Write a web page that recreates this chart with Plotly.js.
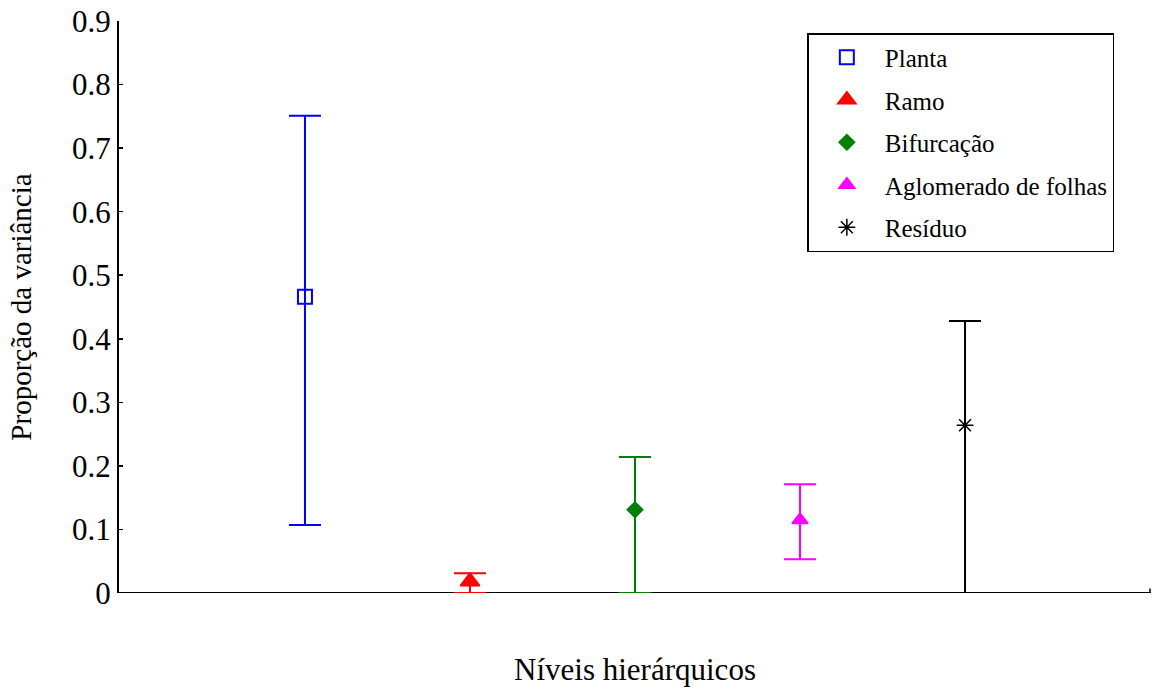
<!DOCTYPE html>
<html>
<head>
<meta charset="utf-8">
<script src="https://cdn.plot.ly/plotly-3.0.1.min.js"></script>
<style>html,body{margin:0;padding:0;background:#fff;}#chart{width:1153px;height:693px;}</style>
</head>
<body>
<div id="chart"></div>
<script>
// Data
const categories = ["Planta", "Ramo", "Bifurcação", "Aglomerado de folhas", "Resíduo"];
const positions = [1, 2, 3, 4, 5];
const estimates = [0.466, 0.018, 0.131, 0.115, 0.264];
const upperLimits = [0.751, 0.031, 0.214, 0.171, 0.428];
const lowerLimits = [0.107, 0.0, 0.0, 0.053, 0.0];
const yTicks = [0, 0.1, 0.2, 0.3, 0.4, 0.5, 0.6, 0.7, 0.8, 0.9];

const colors = ["#0000FF", "#FF0000", "#008000", "#FF00FF", "#000000"];
const symbols = ["square-open", "triangle-up", "diamond", "triangle-up", "asterisk-open"];
const sizes = [14, 17, 12, 14, 14];
const FONT = "'Liberation Serif', 'Times New Roman', serif";

const traces = categories.map((name, i) => ({
  type: "scatter",
  mode: "markers",
  name: name,
  legendgroup: "g" + i,
  x: [positions[i]],
  y: [estimates[i]],
  marker: {
    symbol: symbols[i],
    size: sizes[i],
    color: colors[i],
    line: {color: colors[i], width: (i === 0 ? 2 : 1.5)}
  },
  error_y: {
    type: "data",
    symmetric: false,
    array: [upperLimits[i] - estimates[i]],
    arrayminus: [estimates[i] - lowerLimits[i]],
    color: colors[i],
    thickness: 2,
    width: 16
  },
  cliponaxis: false
}));

const layout = {
  width: 1153,
  height: 693,
  margin: {l: 119, r: 2, t: 21, b: 100},
  paper_bgcolor: "#ffffff",
  plot_bgcolor: "#ffffff",
  font: {family: FONT, color: "#000000"},
  showlegend: true,
  legend: {
    x: 0.667, y: 0.979, xanchor: "left", yanchor: "top",
    bordercolor: "#000000", borderwidth: 1.5,
    bgcolor: "#ffffff",
    font: {family: FONT, size: 25, color: "#000000"},
    traceorder: "grouped",
    tracegroupgap: 7,
    itemwidth: 66
  },
  xaxis: {
    range: [-0.127, 6.127],
    showticklabels: false,
    ticks: "",
    showgrid: false,
    zeroline: false,
    showline: false,
    title: {text: "Níveis hierárquicos", font: {family: FONT, size: 31}, standoff: 65}
  },
  yaxis: {
    range: [0, 0.9],
    tickvals: yTicks,
    ticktext: yTicks.map(v => String(v)),
    ticks: "inside",
    ticklen: 4,
    tickwidth: 1.5,
    tickcolor: "#000000",
    showline: true,
    linecolor: "#000000",
    linewidth: 2,
    showgrid: false,
    zeroline: false,
    tickfont: {family: FONT, size: 31},
    title: {text: "Proporção da variância", font: {family: FONT, size: 29}, standoff: 32}
  },
  shapes: [
    {type: "line", xref: "paper", yref: "y", x0: 0, x1: 1, y0: 0, y1: 0, line: {color: "#000000", width: 2}, layer: "below"},
    {type: "line", xref: "paper", yref: "paper", x0: 0.999, x1: 0.999, y0: 0, y1: 0.008, line: {color: "#000000", width: 1.5}}
  ]
};

Plotly.newPlot("chart", traces, layout, {displayModeBar: false, staticPlot: true});
</script>
</body>
</html>
